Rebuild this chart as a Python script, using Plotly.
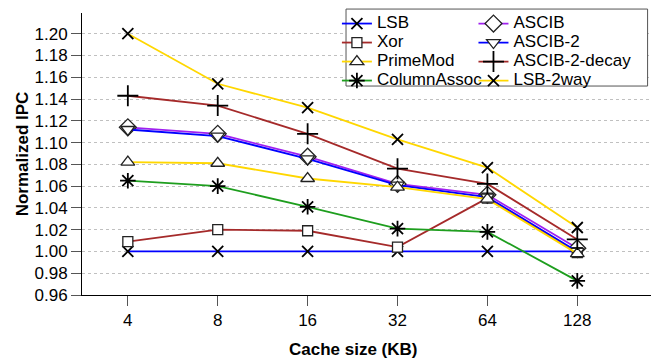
import plotly.graph_objects as go

cache_sizes = ["4", "8", "16", "32", "64", "128"]

lsb = [1.000, 1.000, 1.000, 1.000, 1.000, 1.000]
xor = [1.009, 1.020, 1.019, 1.004, 1.049, 0.999]
primemod = [1.082, 1.081, 1.067, 1.059, 1.048, 0.998]
column_assoc = [1.065, 1.060, 1.041, 1.021, 1.018, 0.973]
ascib = [1.114, 1.108, 1.087, 1.062, 1.052, 1.003]
ascib2 = [1.112, 1.106, 1.085, 1.061, 1.050, 1.000]
ascib2_decay = [1.143, 1.134, 1.108, 1.076, 1.062, 1.011]
lsb_2way = [1.200, 1.154, 1.132, 1.103, 1.077, 1.022]

FONT = "Liberation Sans, Arial, Helvetica, sans-serif"
xs = list(range(len(cache_sizes)))

series = [
    # name, values, color, symbol, size, fill, legend
    ("LSB", lsb, "#0000ff", "x-thin-open", 11, None, "legend"),
    ("ASCIB", ascib, "#a020f0", "diamond", 13, "white", "legend2"),
    ("Xor", xor, "#a52a2a", "square", 10, "white", "legend"),
    ("ASCIB-2", ascib2, "#0000ff", "triangle-down", 12, "white", "legend2"),
    ("PrimeMod", primemod, "#ffd700", "triangle-up", 12, "white", "legend"),
    ("ASCIB-2-decay", ascib2_decay, "#a52a2a", "cross-thin-open", 15, None, "legend2"),
    ("ColumnAssoc", column_assoc, "#1e9e1e", "asterisk-open", 13, None, "legend"),
    ("LSB-2way", lsb_2way, "#ffd700", "x-thin-open", 11, None, "legend2"),
]

fig = go.Figure()
for name, vals, color, sym, size, fill, leg in series:
    if fill:
        marker = dict(symbol=sym, size=size, color=fill,
                      line=dict(color="#222222", width=1.3))
    else:
        marker = dict(symbol=sym, size=size, color="#000000",
                      line=dict(color="#000000", width=1.8))
    fig.add_trace(go.Scatter(
        x=xs, y=vals, mode="lines+markers",
        name='<span style="font-size:17px">' + name + '</span>',
        line=dict(color=color, width=1.8),
        marker=marker, legend=leg,
    ))

fig.update_layout(
    width=651, height=358,
    margin=dict(l=82, r=0, t=13, b=63),
    paper_bgcolor="white", plot_bgcolor="white",
    font=dict(family=FONT, color="#000000", size=17),
    xaxis=dict(
        range=[-0.51, 5.82],
        tickmode="array", tickvals=xs, ticktext=cache_sizes,
        showgrid=False, zeroline=False,
        showline=True, linecolor="#000000", linewidth=1,
        ticks="outside", ticklen=10, tickcolor="#555555", tickwidth=1,
        tickfont=dict(size=17, family=FONT),
    ),
    yaxis=dict(
        range=[0.96, 1.219],
        tick0=0.96, dtick=0.02, tickformat=".2f",
        showgrid=True, gridcolor="#c0c0c0", griddash="dot", gridwidth=1,
        zeroline=False,
        showline=True, linecolor="#000000", linewidth=1,
        ticks="outside", ticklen=10, tickcolor="#555555", tickwidth=1,
        tickfont=dict(size=17, family=FONT),
        title=dict(text="<b>Normalized IPC</b>", font=dict(size=17, family=FONT), standoff=1),
    ),
    legend=dict(
        x=0.448, y=1.014, xanchor="left", yanchor="top",
        bgcolor="rgba(0,0,0,0)", borderwidth=0,
        font=dict(size=12, family=FONT), tracegroupgap=0,
    ),
    legend2=dict(
        x=0.688, y=1.014, xanchor="left", yanchor="top",
        bgcolor="rgba(0,0,0,0)", borderwidth=0,
        font=dict(size=12, family=FONT), tracegroupgap=0,
    ),
    showlegend=True,
)

fig.add_shape(type="rect", xref="paper", yref="paper",
              x0=0.464, x1=0.994, y0=0.741, y1=1.014,
              line=dict(color="#555555", width=1), fillcolor="white", layer="above")

fig.add_annotation(text="<b>Cache size (KB)</b>", xref="x", yref="paper",
                   x=2.5, y=-0.195, xanchor="center", yanchor="middle",
                   showarrow=False, font=dict(size=17, family=FONT))

fig.write_html("out.html", config={"displayModeBar": False},
               post_script="document.body.style.margin='0';")
